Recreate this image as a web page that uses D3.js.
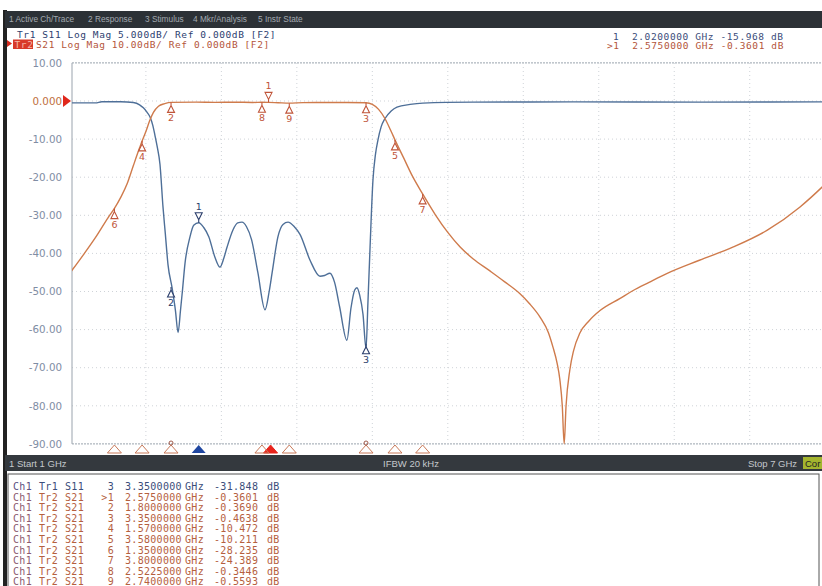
<!DOCTYPE html>
<html>
<head>
<meta charset="utf-8">
<script src="https://cdn.jsdelivr.net/npm/d3@7"></script>
<style>
  body { margin: 0; background: #fff; }
  svg { display: block; }
  .mono { font-family: "DejaVu Sans Mono", monospace; }
</style>
</head>
<body>
<svg id="vna" width="822" height="586"></svg>
<script>
// S21 trace (GHz, dB)
const s21Freq = [1.00, 1.10, 1.20, 1.30, 1.35, 1.40, 1.45, 1.50, 1.55, 1.57, 1.60, 1.63, 1.66, 1.70, 1.75, 1.80,
  2.00, 2.15, 2.30, 2.45, 2.5225, 2.575, 2.65, 2.74, 2.85, 3.00, 3.20, 3.35, 3.40, 3.45, 3.50, 3.55, 3.58,
  3.65, 3.72, 3.80, 3.90, 4.00, 4.10, 4.20, 4.335, 4.45, 4.574, 4.65, 4.733, 4.80, 4.836, 4.87, 4.891, 4.91,
  4.925, 4.94, 4.97, 5.00, 5.05, 5.12, 5.21, 5.37, 5.47, 5.60, 5.74, 6.00, 6.27, 6.54, 6.80, 6.975, 7.00];
const s21Db = [-45.0, -40.5, -35.8, -30.6, -28.2, -25.3, -21.8, -17.0, -12.3, -10.5, -8.0, -5.2, -3.0, -1.4, -0.7, -0.37,
  -0.30, -0.36, -0.31, -0.38, -0.34, -0.36, -0.45, -0.56, -0.42, -0.40, -0.38, -0.46, -0.9, -2.2, -4.6, -8.0, -10.2,
  -15.0, -19.8, -24.4, -29.8, -34.5, -38.4, -41.4, -44.6, -47.4, -50.6, -53.2, -56.7, -60.8, -64.6, -69.0, -73.2, -80.0,
  -90.0, -80.0, -70.6, -65.5, -60.9, -57.8, -55.0, -51.8, -49.8, -47.6, -45.3, -41.8, -38.3, -33.9, -27.8, -22.6, -21.8];

// S11 trace (GHz, dB)
const s11Freq = [1.00, 1.20, 1.25, 1.40, 1.50, 1.55, 1.58, 1.61, 1.633, 1.655, 1.672, 1.69, 1.712, 1.736, 1.755,
  1.776, 1.808, 1.835, 1.856, 1.875, 1.89, 1.911, 1.951, 1.98, 2.02, 2.06, 2.10, 2.149, 2.189, 2.22, 2.245,
  2.293, 2.33, 2.364, 2.40, 2.44, 2.49, 2.547, 2.58, 2.603, 2.65, 2.69, 2.73, 2.78, 2.825, 2.905, 2.984,
  3.02, 3.063, 3.10, 3.14, 3.198, 3.23, 3.26, 3.278, 3.30, 3.326, 3.35, 3.365, 3.382, 3.405, 3.425, 3.445,
  3.47, 3.501, 3.55, 3.596, 3.70, 3.802, 4.20, 5.00, 6.00, 7.00];
const s11Db = [-0.25, -0.25, -0.10, -0.10, -0.20, -0.5, -0.9, -1.5, -2.1, -3.2, -4.5, -6.0, -8.3, -13.9, -17.5,
  -21.5, -24.5, -27.5, -30.4, -27.5, -25.0, -21.3, -17.8, -16.3, -15.97, -16.6, -17.8, -20.5, -21.8, -20.6, -19.2,
  -16.9, -16.0, -15.9, -16.5, -18.2, -22.5, -27.4, -25.0, -22.6, -17.8, -16.2, -15.9, -16.5, -17.5, -20.9, -23.0,
  -22.9, -22.6, -23.8, -27.0, -31.4, -27.2, -24.8, -24.5, -25.5, -28.0, -32.5, -26.5, -19.2, -10.4, -7.0, -5.1,
  -3.4, -2.3, -1.3, -0.8, -0.45, -0.28, -0.15, -0.12, -0.15, -0.12];

const yTicks = [10, 0, -10, -20, -30, -40, -50, -60, -70, -80, -90];
const gridFreq = [1.6, 2.2, 2.8, 3.4, 4.0, 4.6, 5.2, 5.8, 6.4];

// markers
const s21MkId = ["1", "2", "3", "4", "5", "6", "7", "8", "9"];
const s21MkFreq = [2.575, 1.8, 3.35, 1.57, 3.58, 1.35, 3.8, 2.5225, 2.74];
const s21MkDb = [-0.3601, -0.3690, -0.4638, -10.472, -10.211, -28.235, -24.389, -0.3446, -0.5593];
const s11MkId = ["1", "2", "3"];
const s11MkFreq = [2.02, 1.8, 3.35];
const s11MkDb = [-15.968, -24.4, -31.848];

const menuItems = ["1 Active Ch/Trace", "2 Response", "3 Stimulus", "4 Mkr/Analysis", "5 Instr State"];
const menuX = [9, 88, 145, 193, 258];

const C21 = "#cf7b4c", C11 = "#4e6f98", MK21 = "#c0553a", MK11 = "#2c3f6c";

const svg = d3.select("#vna");

const x = d3.scaleLinear().domain([1, 7]).range([70.4, 825.2]);
const y21 = d3.scaleLinear().domain([-90, 10]).range([443.9, 62.9]);
const y11 = d3.scaleLinear().domain([-45, 5]).range([443.9, 62.9]);

// left frame + top menu bar
svg.append("rect").attr("x", 3).attr("y", 10).attr("width", 4).attr("height", 576).attr("fill", "#222");
svg.append("rect").attr("x", 5).attr("y", 11).attr("width", 817).attr("height", 17).attr("fill", "#2c3136");
svg.selectAll(".menu").data(menuItems).enter().append("text")
  .attr("x", (d, i) => menuX[i]).attr("y", 22)
  .attr("font-family", "Liberation Sans").attr("font-size", 8.3).attr("fill", "#a3a9b0")
  .text(d => d);

// header
svg.append("path").attr("d", "M7,40 L12,43.5 L7,47 Z").attr("fill", "#d52b1e");
svg.append("rect").attr("x", 13).attr("y", 39.5).attr("width", 20).attr("height", 9.5).attr("fill", "#d83a2a");
const hdr = svg.append("g").attr("class", "mono").attr("font-size", 9.5).attr("letter-spacing", 0.6);
hdr.append("text").attr("x", 17).attr("y", 38).attr("fill", "#2d4170")
  .text("Tr1 S11 Log Mag 5.000dB/ Ref 0.000dB [F2]");
hdr.append("text").attr("x", 14.5).attr("y", 47.5).attr("fill", "#f6b8a8").text("Tr2");
hdr.append("text").attr("x", 36).attr("y", 47.5).attr("fill", "#b4553a")
  .text("S21 Log Mag 10.00dB/ Ref 0.000dB [F2]");

const fmtDb = v => Math.abs(v) < 10 ? v.toFixed(4) : v.toFixed(3);
hdr.append("text").attr("x", 613).attr("y", 39.5).attr("fill", "#3b4d7a").attr("xml:space", "preserve")
  .text(s11MkId[0] + "  " + s11MkFreq[0].toFixed(7) + " GHz " + fmtDb(s11MkDb[0]) + " dB");
hdr.append("text").attr("x", 607).attr("y", 49).attr("fill", "#b4553a").attr("xml:space", "preserve")
  .text(">" + s21MkId[0] + "  " + s21MkFreq[0].toFixed(7) + " GHz " + fmtDb(s21MkDb[0]) + " dB");

// grid
const grid = svg.append("g");
grid.selectAll(".hg").data(yTicks).enter().append("line")
  .attr("x1", 72).attr("x2", 822).attr("y1", d => y21(d)).attr("y2", d => y21(d))
  .attr("stroke", d => (d === 10 || d === -90) ? "#9aa3ad" : "#cfd3d8")
  .attr("stroke-dasharray", d => (d === 10 || d === -90) ? "2,1" : "1,3");
grid.selectAll(".vg").data(gridFreq).enter().append("line")
  .attr("x1", d => x(d)).attr("x2", d => x(d)).attr("y1", 63).attr("y2", 444)
  .attr("stroke", "#cfd3d8").attr("stroke-dasharray", "1,3");
grid.append("line").attr("x1", 72).attr("x2", 72).attr("y1", 62.9).attr("y2", 443.9).attr("stroke", "#9aa3ad");

// y axis labels (S21 scale)
const yAxis = d3.axisLeft(y21).tickValues(yTicks).tickSize(0).tickPadding(10)
  .tickFormat(d => d === 0 ? "0.000" : d.toFixed(2));
const ax = svg.append("g").attr("transform", "translate(72,0)").call(yAxis);
ax.select(".domain").remove();
ax.selectAll("text").attr("font-family", "DejaVu Sans").attr("font-size", 10.3)
  .attr("fill", d => d === 0 ? "#c0703e" : "#7f8da4");
svg.append("path").attr("d", `M63,${y21(0) - 6} L71,${y21(0)} L63,${y21(0) + 6} Z`).attr("fill", "#e0271b");

// traces
svg.append("clipPath").attr("id", "clip").append("rect")
  .attr("x", 72).attr("y", 62).attr("width", 750).attr("height", 382.5);
const s21 = s21Freq.map((f, i) => [f, s21Db[i]]);
const s11 = s11Freq.map((f, i) => [f, s11Db[i]]);
const line21 = d3.line().x(d => x(d[0])).y(d => y21(d[1])).curve(d3.curveMonotoneX);
const line11 = d3.line().x(d => x(d[0])).y(d => y11(d[1])).curve(d3.curveMonotoneX);
const traces = svg.append("g").attr("clip-path", "url(#clip)");
traces.append("path").datum(s11).attr("d", line11).attr("fill", "none")
  .attr("stroke", C11).attr("stroke-width", 1.4);
traces.append("path").datum(s21).attr("d", line21).attr("fill", "none")
  .attr("stroke", C21).attr("stroke-width", 1.4);

// markers on the traces
function marker(px, py, id, col, active) {
  const g = svg.append("g");
  if (active) {
    g.append("path").attr("d", `M${px - 3.5},${py - 10} L${px + 3.5},${py - 10} L${px},${py - 3} Z M${px},${py - 3} L${px},${py}`)
      .attr("fill", "#fff").attr("fill-opacity", 0.6).attr("stroke", col).attr("stroke-width", 1.1);
    g.append("text").attr("x", px).attr("y", py - 13).attr("text-anchor", "middle")
      .attr("font-family", "DejaVu Sans").attr("font-size", 9.5).attr("fill", col).text(id);
  } else {
    g.append("path").attr("d", `M${px},${py} L${px},${py + 3} M${px},${py + 3} L${px - 3.5},${py + 10} L${px + 3.5},${py + 10} Z`)
      .attr("fill", "#fff").attr("fill-opacity", 0.6).attr("stroke", col).attr("stroke-width", 1.1);
    g.append("text").attr("x", px).attr("y", py + 19).attr("text-anchor", "middle")
      .attr("font-family", "DejaVu Sans").attr("font-size", 9.5).attr("fill", col).text(id);
  }
}
s21MkId.forEach((id, i) => marker(x(s21MkFreq[i]), y21(s21MkDb[i]), id, MK21, i === 0));
s11MkId.forEach((id, i) => marker(x(s11MkFreq[i]), y11(s11MkDb[i]), id, MK11, i === 0));

// marker position indicators below the grid
const ind = svg.append("g");
s21MkId.forEach((id, i) => {
  const px = x(s21MkFreq[i]) + (i === 0 ? 2 : 0);
  ind.append("path").attr("d", `M${px},445 L${px + 7},453 L${px - 7},453 Z`)
    .attr("fill", i === 0 ? "#e8241c" : "none").attr("stroke", i === 0 ? "#e8241c" : "#c87a5a").attr("stroke-width", 1);
});
s11MkId.forEach((id, i) => {
  const px = x(s11MkFreq[i]);
  if (i === 0) {
    ind.append("path").attr("d", `M${px},445 L${px + 7},453 L${px - 7},453 Z`).attr("fill", "#1f46a0");
  } else {
    ind.append("circle").attr("cx", px).attr("cy", 443).attr("r", 2).attr("fill", "none").attr("stroke", "#a05a4a");
  }
});

// bottom status bar
svg.append("rect").attr("x", 5).attr("y", 455).attr("width", 817).attr("height", 16).attr("fill", "#34393e");
const stat = [["1 Start 1 GHz", 9], ["IFBW 20 kHz", 383], ["Stop 7 GHz", 748]];
svg.selectAll(".stat").data(stat).enter().append("text")
  .attr("x", d => d[1]).attr("y", 467).attr("font-family", "Liberation Sans").attr("font-size", 9.5)
  .attr("fill", "#c4c8cc").text(d => d[0]);
svg.append("rect").attr("x", 803).attr("y", 457).attr("width", 19).attr("height", 12).attr("fill", "#a4b52e");
svg.append("text").attr("x", 805).attr("y", 467).attr("font-family", "Liberation Sans").attr("font-size", 9.5)
  .attr("fill", "#222").text("Cor");

// marker table
svg.append("rect").attr("x", 8).attr("y", 474).attr("width", 811).attr("height", 120)
  .attr("fill", "#fff").attr("stroke", "#555");
const rows = [{ tr: "Tr1", s: "S11", id: s11MkId[2], f: s11MkFreq[2], v: s11MkDb[2], col: "#3b4d7a", ch: "#5b4f80" }]
  .concat(s21MkId.map((id, i) => ({ tr: "Tr2", s: "S21", id: i === 0 ? ">" + id : id, f: s21MkFreq[i], v: s21MkDb[i], col: "#b5603e", ch: "#8c5a6e" })));
const tbl = svg.append("g").attr("class", "mono").attr("font-size", 10).attr("letter-spacing", 0.3);
rows.forEach((r, i) => {
  const yy = 490 + i * 10.6;
  tbl.append("text").attr("x", 13).attr("y", yy).attr("fill", r.ch).text("Ch1");
  tbl.append("text").attr("x", 39).attr("y", yy).attr("fill", r.col).text(r.tr);
  tbl.append("text").attr("x", 65).attr("y", yy).attr("fill", r.col).text(r.s);
  tbl.append("text").attr("x", 114).attr("y", yy).attr("text-anchor", "end").attr("fill", r.col).text(r.id);
  tbl.append("text").attr("x", 125).attr("y", yy).attr("fill", r.col).text(r.f.toFixed(7));
  tbl.append("text").attr("x", 185).attr("y", yy).attr("fill", r.col).text("GHz");
  tbl.append("text").attr("x", 214).attr("y", yy).attr("fill", r.col).text(fmtDb(r.v));
  tbl.append("text").attr("x", 267).attr("y", yy).attr("fill", r.col).text("dB");
});
</script>
</body>
</html>
